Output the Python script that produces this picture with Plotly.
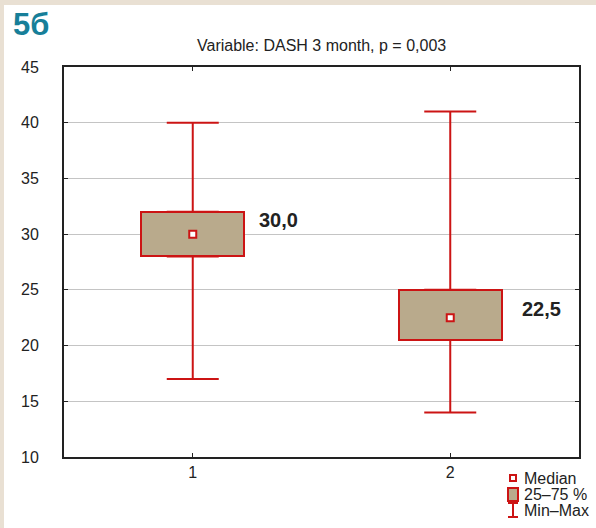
import plotly.graph_objects as go

# DASH score at 3 months, two groups
groups = [1, 2]
q1 = [28.0, 20.5]
median = [30.0, 22.5]
q3 = [32.0, 25.0]
vmin = [17.0, 14.0]
vmax = [40.0, 41.0]
median_labels = ["30,0", "22,5"]

RED = "#cc1414"
TAN = "#b9aa8c"
BEIGE = "#e9e0d3"
FONT = "Liberation Sans, Arial, sans-serif"

W, H = 596, 528
ML, MR, MT, MB = 64, 17, 67, 71
PW, PH = W - ML - MR, H - MT - MB


def px_x(x):
    return (x - ML) / PW


def px_y(y):
    return (H - MB - y) / PH


fig = go.Figure()

# interquartile boxes
fig.add_trace(go.Bar(
    x=groups, y=[b - a for a, b in zip(q1, q3)], base=q1, width=0.4,
    marker=dict(color=TAN, line=dict(color=RED, width=2)),
    showlegend=False, hoverinfo="skip",
))

# upper whiskers (q3 -> max)
fig.add_trace(go.Scatter(
    x=groups, y=q3, mode="markers", marker=dict(size=0.1, opacity=0),
    error_y=dict(type="data", symmetric=False,
                 array=[b - a for a, b in zip(q3, vmax)],
                 arrayminus=[0, 0], color=RED, thickness=2, width=26),
    showlegend=False, hoverinfo="skip",
))
# lower whiskers (q1 -> min)
fig.add_trace(go.Scatter(
    x=groups, y=q1, mode="markers", marker=dict(size=0.1, opacity=0),
    error_y=dict(type="data", symmetric=False,
                 array=[0, 0],
                 arrayminus=[a - b for a, b in zip(q1, vmin)],
                 color=RED, thickness=2, width=26),
    showlegend=False, hoverinfo="skip",
))

# medians
fig.add_trace(go.Scatter(
    x=groups, y=median, mode="markers",
    marker=dict(symbol="square", size=7, color="white",
                line=dict(color=RED, width=2)),
    showlegend=False, hoverinfo="skip",
))

annotations = [
    dict(x=1.25, y=31.3, xref="x", yref="y", text="<b>" + median_labels[0] + "</b>",
         showarrow=False, xanchor="left", yanchor="middle",
         font=dict(family=FONT, size=20, color="#222")),
    dict(x=2.27, y=23.3, xref="x", yref="y", text="<b>" + median_labels[1] + "</b>",
         showarrow=False, xanchor="left", yanchor="middle",
         font=dict(family=FONT, size=20, color="#222")),
    dict(x=px_x(11), y=px_y(25), xref="paper", yref="paper", text="<b>5б</b>",
         showarrow=False, xanchor="left", yanchor="middle",
         font=dict(family=FONT, size=31, color="#177f99")),
    dict(x=px_x(321), y=px_y(46), xref="paper", yref="paper",
         text="Variable: DASH 3 month, p = 0,003",
         showarrow=False, xanchor="center", yanchor="middle",
         font=dict(family=FONT, size=16, color="#222")),
]
for txt, ypx in [("Median", 478), ("25–75 %", 494), ("Min–Max", 510)]:
    annotations.append(dict(x=px_x(522), y=px_y(ypx), xref="paper", yref="paper",
                            text=txt, showarrow=False, xanchor="left", yanchor="middle",
                            font=dict(family=FONT, size=16, color="#222")))

shapes = [
    # beige page border on top and left
    dict(type="rect", xref="paper", yref="paper", x0=px_x(0), x1=px_x(W),
         y0=px_y(5), y1=px_y(0), fillcolor=BEIGE, line=dict(width=0), layer="above"),
    dict(type="rect", xref="paper", yref="paper", x0=px_x(0), x1=px_x(4),
         y0=px_y(H), y1=px_y(0), fillcolor=BEIGE, line=dict(width=0), layer="above"),
    # legend keys
    dict(type="rect", xref="paper", yref="paper", x0=px_x(510), x1=px_x(516),
         y0=px_y(481), y1=px_y(475), fillcolor="white", line=dict(color=RED, width=2)),
    dict(type="rect", xref="paper", yref="paper", x0=px_x(508), x1=px_x(518),
         y0=px_y(501), y1=px_y(488), fillcolor=TAN, line=dict(color=RED, width=2)),
    dict(type="line", xref="paper", yref="paper", x0=px_x(513), x1=px_x(513),
         y0=px_y(517), y1=px_y(503), line=dict(color=RED, width=2)),
    dict(type="line", xref="paper", yref="paper", x0=px_x(508), x1=px_x(518),
         y0=px_y(503), y1=px_y(503), line=dict(color=RED, width=2)),
    dict(type="line", xref="paper", yref="paper", x0=px_x(508), x1=px_x(518),
         y0=px_y(517), y1=px_y(517), line=dict(color=RED, width=2)),
]

fig.update_layout(
    width=W, height=H,
    margin=dict(l=ML, r=MR, t=MT, b=MB),
    paper_bgcolor="white", plot_bgcolor="white",
    font=dict(family=FONT, size=16, color="#222"),
    annotations=annotations, shapes=shapes,
    bargap=0,
)
fig.update_xaxes(
    range=[0.5, 2.5], tickvals=groups, ticktext=[str(g) for g in groups],
    showgrid=False, zeroline=False, showline=True, linecolor="#222", linewidth=2,
    mirror="allticks", ticks="inside", ticklen=4, tickcolor="#222",
    tickfont=dict(size=16), fixedrange=True,
)
fig.update_yaxes(
    range=[10, 45], dtick=5, showgrid=True, gridcolor="#c4c4c4", gridwidth=1,
    zeroline=False, showline=True, linecolor="#222", linewidth=2,
    mirror="allticks", ticks="inside", ticklen=4, tickcolor="#222",
    tickfont=dict(size=16), ticklabelstandoff=20, fixedrange=True,
)

fig.write_html("out.html")
